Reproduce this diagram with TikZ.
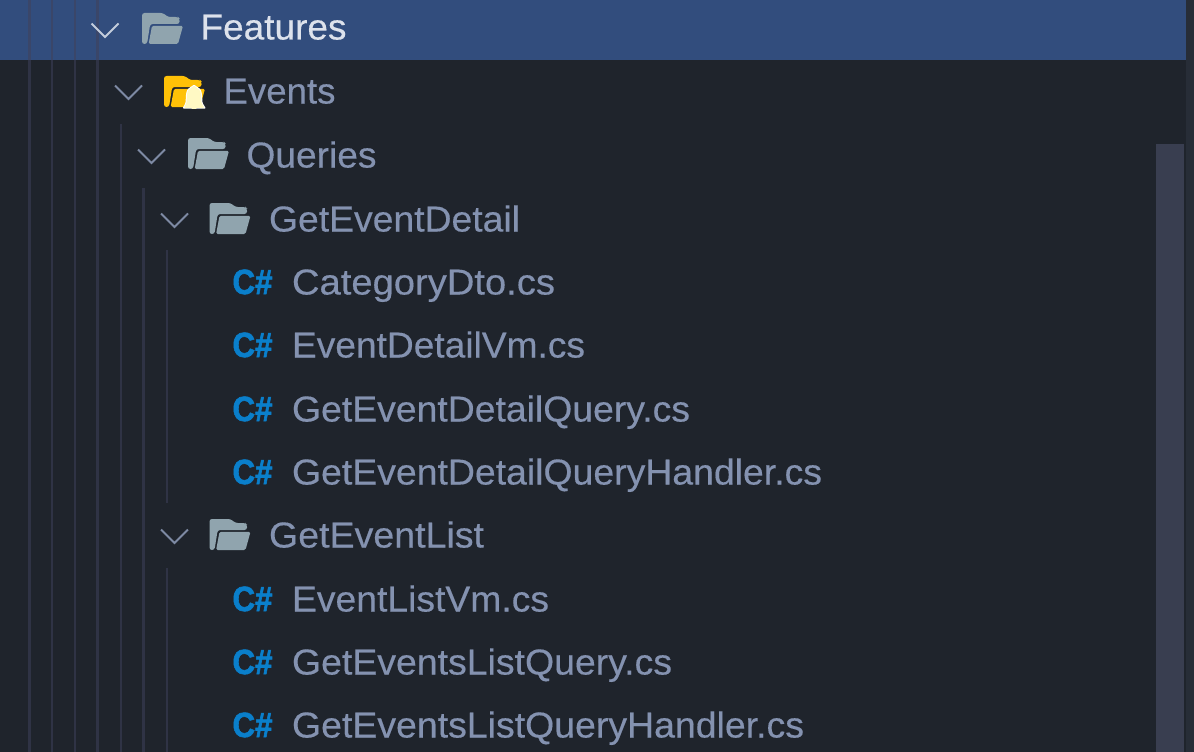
\documentclass[tikz,border=0pt]{standalone}
\usepackage{fontspec}
\usepackage{graphicx}
\setmainfont{Liberation Sans}
\newfontfamily\labfont[FakeBold=0.35]{Liberation Sans}
\newfontfamily\iconfont[FakeBold=1.8]{Liberation Sans Bold}
\definecolor{bgc}{HTML}{1F242C}
\definecolor{selc}{HTML}{324D7D}
\definecolor{guidec}{HTML}{2F3345}
\definecolor{guideselc}{HTML}{3A4669}
\definecolor{thumbc}{HTML}{393E50}
\definecolor{stripc}{HTML}{272D37}
\definecolor{folderc}{HTML}{90A4AE}
\definecolor{yellowc}{HTML}{FFC107}
\definecolor{bellc}{HTML}{FFF9C4}
\definecolor{textc}{HTML}{8492B0}
\definecolor{seltextc}{HTML}{DDE2EC}
\definecolor{chevc}{HTML}{7E8AA4}
\definecolor{csc}{HTML}{0A7FCB}
\newcommand{\fit}[2]{\resizebox{#1pt}{\height}{#2}}
\tikzset{
  x=1pt,y=-1pt,
  guide/.style={draw=guidec,line width=2.6pt},
  chev/.style={draw=chevc,line width=2pt},
  label/.style={anchor=base west,inner sep=0pt,outer sep=0pt,text=textc,font=\labfont\fontsize{36}{37}\selectfont},
  csicon/.style={anchor=base west,inner sep=0pt,outer sep=0pt,text=csc,font=\iconfont\fontsize{35}{36}\selectfont},
  pics/folder/.style={code={
    \fill[#1,rounded corners=2.5pt] (0,0) -- (21,0) -- (26,4) -- (36,4) -- (37.5,5.5) -- (37.5,11) -- (8.2,11) -- (5,31) -- (0,31) -- cycle;
    \fill[#1,rounded corners=1.5pt] (10,12.8) -- (41,12.8) -- (36,31) -- (6.6,31) -- cycle;
  }},
  pics/chevron/.style={code={\draw[chev,#1] (0,0) -- (13.5,13.5) -- (27,0);}}
}
\begin{document}
\begin{tikzpicture}
\useasboundingbox (0,0) rectangle (1194,752);
\fill[bgc] (0,0) rectangle (1194,752);
\fill[selc] (0,0) rectangle (1186,60);
\fill[stripc] (1186,0) rectangle (1194,752);
\fill[thumbc] (1156,144) rectangle (1184,752);
% indent guides
\foreach \gx in {29.5,52,75,97.5} {
  \draw[guide] (\gx,60) -- (\gx,752);
  \draw[guide,draw=guideselc] (\gx,0) -- (\gx,60);
}
\draw[guide] (121,124) -- (121,752);
\draw[guide] (143.5,188) -- (143.5,752);
\draw[guide] (167,250) -- (167,503);
\draw[guide] (167,568) -- (167,752);
% chevrons
\pic at (91.5,23.5) {chevron={draw=seltextc!85!selc}};
\pic at (115,85.5) {chevron={}};
\pic at (138,149.5) {chevron={}};
\pic at (161,213.5) {chevron={}};
\pic at (161,529.5) {chevron={}};
% folders
\pic at (142,13) {folder=folderc};
\pic at (164,76) {folder=yellowc};
\pic at (188,138) {folder=folderc};
\pic at (209.5,203) {folder=folderc};
\pic at (209.5,519) {folder=folderc};
% bell
\fill[white,rounded corners=1pt] (182.5,108.5) -- (185.5,103) -- (186,95) .. controls (186.5,89) and (189.5,87.5) .. (191.5,86.5) -- (194,84.5) -- (196.5,86.5) .. controls (198.5,87.5) and (201.5,89) .. (202,95) -- (202.5,103) -- (206,108.5) -- cycle;
\fill[bellc,rounded corners=1pt] (184,107.8) -- (186.5,103) -- (187,95) .. controls (187.5,90) and (190,88.5) .. (192,87.5) -- (194,85.5) -- (196,87.5) .. controls (198,88.5) and (200.5,90) .. (201,95) -- (201.5,103) -- (204.5,107.8) -- cycle;
\fill[bellc] (191.5,108.8) arc[start angle=180,end angle=0,x radius=2.5,y radius=-3];
% labels
\node[label,text=seltextc] (features) at (200.5,39.5) {\fit{146}{Features}};
\node[label] (events) at (223.5,103.5) {\fit{112}{Events}};
\node[label] (queries) at (246.5,167.5) {\fit{130}{Queries}};
\node[label] (detail) at (269,231.5) {\fit{251}{GetEventDetail}};
\node[label] (list) at (269,547.5) {\fit{215}{GetEventList}};
\node[label] (f1) at (292,294.5) {\fit{263}{CategoryDto.cs}};
\node[label] (f2) at (292,357.5) {\fit{293}{EventDetailVm.cs}};
\node[label] (f3) at (292,421.5) {\fit{398}{GetEventDetailQuery.cs}};
\node[label] (f4) at (292,484.5) {\fit{530}{GetEventDetailQueryHandler.cs}};
\node[label] (f5) at (292,611.5) {\fit{257}{EventListVm.cs}};
\node[label] (f6) at (292,674.5) {\fit{380}{GetEventsListQuery.cs}};
\node[label] (f7) at (292,737.5) {\fit{512}{GetEventsListQueryHandler.cs}};
% C# icons
\node[csicon] (c1) at (232.5,294) {\fit{40}{C\#}};
\node[csicon] (c2) at (232.5,357) {\fit{40}{C\#}};
\node[csicon] (c3) at (232.5,421) {\fit{40}{C\#}};
\node[csicon] (c4) at (232.5,484) {\fit{40}{C\#}};
\node[csicon] (c5) at (232.5,611) {\fit{40}{C\#}};
\node[csicon] (c6) at (232.5,674) {\fit{40}{C\#}};
\node[csicon] (c7) at (232.5,737) {\fit{40}{C\#}};
\end{tikzpicture}
\end{document}
